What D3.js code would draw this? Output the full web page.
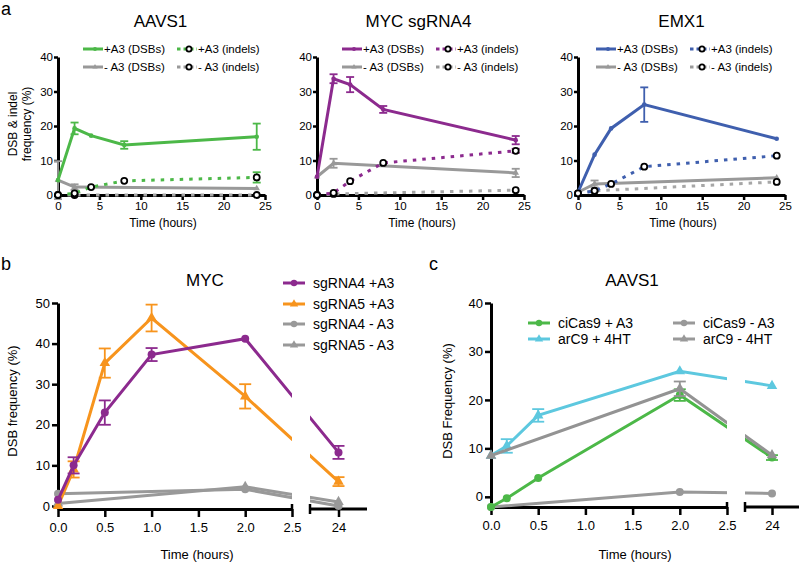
<!DOCTYPE html>
<html><head><meta charset="utf-8">
<script src="https://cdn.jsdelivr.net/npm/d3@7"></script>
<style>body{margin:0;background:#fff}svg text{font-family:"Liberation Sans",Arial,sans-serif}</style>
</head><body>
<svg id="c" width="800" height="562"></svg>
<script>
// ---------------- DATA ----------------
// Panel a
const aTimesPlus = [0, 2, 4, 8, 24];
const aTimesMinus = [0, 2, 24];
const aXTicks = [0, 5, 10, 15, 20, 25];
const aYTicks = [0, 10, 20, 30, 40];
const aTitles = ["AAVS1", "MYC sgRNA4", "EMX1"];
const aColors = ["#4cb848", "#8c2a8e", "#3f5fae"];
const aLegendLabels = ["+A3 (DSBs)", "+A3 (indels)", "- A3 (DSBs)", "- A3 (indels)"];

const aavsDsbPlus = [4.3, 19.3, 17.2, 14.5, 16.9];
const aavsDsbPlusErr = [0, 1.7, 0, 1.1, 3.8];
const aavsIndelPlus = [0, 0.5, 2.3, 4.1, 5.1];
const aavsIndelPlusErr = [0, 0, 0, 0, 1.5];
const aavsDsbMinus = [4.3, 2.3, 1.9];
const aavsDsbMinusErr = [5.5, 0.8, 0];
const aavsIndelMinus = [0, 0, 0];

const mycDsbPlus = [5.3, 33.7, 32.0, 24.8, 15.9];
const mycDsbPlusErr = [0, 1.3, 2.2, 1.0, 1.2];
const mycIndelPlus = [0, 0.6, 4.0, 9.3, 12.8];
const mycIndelPlusErr = [0, 0, 0, 0, 0.6];
const mycDsbMinus = [5.3, 9.2, 6.4];
const mycDsbMinusErr = [0, 1.3, 1.2];
const mycIndelMinus = [0, 0.3, 1.4];

const emxDsbPlus = [0.8, 11.7, 19.3, 26.2, 16.3];
const emxDsbPlusErr = [0, 0, 0, 5.0, 0];
const emxIndelPlus = [0.5, 1.2, 3.2, 8.2, 11.4];
const emxIndelPlusErr = [0, 0, 0, 0, 0];
const emxDsbMinus = [0.8, 3.2, 5.0];
const emxDsbMinusErr = [0, 1.0, 0];
const emxIndelMinus = [0.5, 1.2, 3.8];

// Panel b
const bTimes = [0, 0.167, 0.5, 1, 2, 24];
const bTimesMinus = [0, 2, 24];
const bXTicks1 = [0, 0.5, 1, 1.5, 2, 2.5];
const bXTicks2 = [24];
const bYTicks = [0, 10, 20, 30, 40, 50];
const bLabels = ["sgRNA4 +A3", "sgRNA5 +A3", "sgRNA4 - A3", "sgRNA5 - A3"];
const bColors = ["#8c2a8e", "#f7941d", "#999999", "#999999"];
const sg4Plus = [1.5, 10.0, 23.0, 37.3, 41.2, 13.2];
const sg4PlusErr = [0, 2.0, 3.0, 1.6, 0, 1.6];
const sg5Plus = [0, 9.0, 35.2, 46.3, 27.0, 6.0];
const sg5PlusErr = [0, 2.0, 3.6, 3.3, 3.0, 1.1];
const sg4Minus = [3.0, 4.1, 0.0];
const sg5Minus = [0.6, 4.7, 1.0];

// Panel c
const cTimes = [0, 0.167, 0.5, 2, 24];
const cTimesMinus = [0, 2, 24];
const cYTicks = [0, 10, 20, 30, 40];
const cLabels = ["ciCas9 + A3", "arC9 + 4HT", "ciCas9 - A3", "arC9 - 4HT"];
const cColors = ["#4cb848", "#5dc8df", "#999999", "#999999"];
const ciPlus = [-2.1, -0.3, 3.9, 21.0, 8.1];
const ciPlusErr = [0, 0, 0, 1.2, 0.5];
const arPlus = [8.5, 10.5, 16.8, 25.9, 22.9];
const arPlusErr = [0, 1.4, 1.3, 0, 0];
const ciMinus = [-2.1, 1.0, 0.7];
const arMinus = [8.5, 22.3, 8.6];
const arMinusErr = [0, 1.5, 0];

// ---------------- DRAWING ----------------
const svg = d3.select("#c");
const FONT = '"Liberation Sans",Arial,sans-serif';

function styleAxis(g, fs) {
  g.selectAll(".domain").attr("stroke", "#000").attr("stroke-width", 3);
  g.selectAll(".tick line").attr("stroke", "#000").attr("stroke-width", 2.5);
  g.selectAll(".tick text").attr("font-size", fs).attr("font-family", FONT).attr("fill", "#000");
}

function marker(g, type, cx, cy, color, size) {
  if (type === "open") {
    g.append("circle").attr("cx", cx).attr("cy", cy).attr("r", size)
      .attr("fill", "#fff").attr("stroke", "#000").attr("stroke-width", 1.8);
  } else if (type === "circle") {
    g.append("circle").attr("cx", cx).attr("cy", cy).attr("r", size).attr("fill", color);
  } else if (type === "tri") {
    g.append("path").attr("d", d3.symbol(d3.symbolTriangle, size * size * 3)())
      .attr("transform", `translate(${cx},${cy})`).attr("fill", color);
  }
}

function series(g, x, y, xs, ys, errs, o) {
  const pts = xs.map((t, i) => [x(t), y(ys[i])]);
  const path = g.append("path").attr("d", d3.line()(pts)).attr("fill", "none")
    .attr("stroke", o.color).attr("stroke-width", o.width || 3);
  if (o.dash) path.attr("stroke-dasharray", o.dash);
  if (o.clip) path.attr("clip-path", `url(#${o.clip})`);
  if (errs) {
    xs.forEach((t, i) => {
      if (!errs[i]) return;
      const cx = x(t), y1 = y(ys[i] + errs[i]), y2 = y(ys[i] - errs[i]);
      const cw = o.cap || 4;
      g.append("line").attr("x1", cx).attr("x2", cx).attr("y1", y1).attr("y2", y2).attr("stroke", o.errColor || o.color).attr("stroke-width", 1.8);
      [y1, y2].forEach(yy => g.append("line").attr("x1", cx - cw).attr("x2", cx + cw).attr("y1", yy).attr("y2", yy).attr("stroke", o.errColor || o.color).attr("stroke-width", 1.8));
    });
  }
  if (o.marker) xs.forEach((t, i) => marker(g, o.marker, x(t), y(ys[i]), o.color, o.msize || 3));
}

function text(str, x, y, fs, anchor, rot) {
  const t = svg.append("text").attr("x", x).attr("y", y).attr("font-size", fs)
    .attr("text-anchor", anchor || "middle").attr("fill", "#000").text(str);
  if (rot) t.attr("transform", `rotate(-90,${x},${y})`);
  return t;
}

// ---------- Panel a ----------
const aPanels = [
  { x0: 58, leg: 83, data: [aavsDsbPlus, aavsDsbPlusErr, aavsIndelPlus, aavsIndelPlusErr, aavsDsbMinus, aavsDsbMinusErr, aavsIndelMinus] },
  { x0: 317, leg: 342, data: [mycDsbPlus, mycDsbPlusErr, mycIndelPlus, mycIndelPlusErr, mycDsbMinus, mycDsbMinusErr, mycIndelMinus] },
  { x0: 578, leg: 596, data: [emxDsbPlus, emxDsbPlusErr, emxIndelPlus, emxIndelPlusErr, emxDsbMinus, emxDsbMinusErr, emxIndelMinus] }
];
aPanels.forEach((p, k) => {
  const col = aColors[k];
  const x = d3.scaleLinear().domain([0, 25]).range([p.x0, p.x0 + 207]);
  const y = d3.scaleLinear().domain([0, 40]).range([195, 57]);
  const g = svg.append("g");
  const xa = g.append("g").attr("transform", "translate(0,195)")
    .call(d3.axisBottom(x).tickValues(aXTicks).tickSize(5).tickSizeOuter(0).tickPadding(2));
  styleAxis(xa, 11.5);
  const ya = g.append("g").attr("transform", `translate(${p.x0},0)`)
    .call(d3.axisLeft(y).tickValues(aYTicks).tickSize(4).tickSizeOuter(0).tickPadding(1));
  styleAxis(ya, 11.5);
  const [dp, dpe, ip, ipe, dm, dme, im] = p.data;
  series(g, x, y, aTimesMinus, dm, dme, { color: "#999", marker: "tri", msize: 2.5, cap: 4 });
  series(g, x, y, aTimesMinus, im, null, { color: "#a6a6a6", dash: "3.5,6", marker: "open", msize: 3 });
  series(g, x, y, aTimesPlus, dp, dpe, { color: col, marker: "circle", msize: 2.3, cap: 4 });
  series(g, x, y, aTimesPlus, ip, ipe, { color: col, dash: "3.5,6", marker: "open", msize: 3, cap: 4 });
  text(aTitles[k], (p.x0 + p.x0 + 207) / 2 + (k === 0 ? -1 : k === 1 ? -2 : 0), 27, 17);
  text("Time (hours)", p.x0 + 105, 227, 12);
  // legend
  const L = [[p.leg, 49, col, "circle", null], [p.leg + 94, 49, col, "open", "3.5,3"], [p.leg, 67, "#999", "tri", null], [p.leg + 94, 67, "#999", "open", "3.5,3"]];
  L.forEach((l, i) => {
    g.append("line").attr("x1", l[0]).attr("x2", l[0] + 20).attr("y1", l[1]).attr("y2", l[1])
      .attr("stroke", l[2]).attr("stroke-width", 3).attr("stroke-dasharray", l[4]);
    marker(g, l[3], l[0] + 12, l[1], l[2], l[3] === "open" ? 2.6 : 2);
    text(aLegendLabels[i], l[0] + 21, l[1] + 4, 11.5, "start");
  });
});
text("a", 1, 15, 18, "start");
text("DSB & indel", 17, 124, 12, "middle", true);
text("frequency (%)", 31, 124, 12, "middle", true);

// ---------- broken axis helper ----------
function brokenPanel(cfg) {
  const s1 = d3.scaleLinear().domain([0, 2.5]).range([cfg.x0, cfg.x1]);
  const s2 = d3.scaleLinear().domain([23, 25]).range([cfg.x2, cfg.x3]);
  const x = t => (t <= 2.5 ? s1(t) : s2(t));
  const y = d3.scaleLinear().domain(cfg.yDomain).range([cfg.yAxis, cfg.yTop]);
  const g = svg.append("g");
  const defs = g.append("defs");
  const cp = defs.append("clipPath").attr("id", cfg.id);
  cp.append("rect").attr("x", 0).attr("y", 0).attr("width", cfg.x1).attr("height", 562);
  cp.append("rect").attr("x", cfg.x2).attr("y", 0).attr("width", 800 - cfg.x2).attr("height", 562);
  const xa1 = g.append("g").attr("transform", `translate(0,${cfg.yAxis})`)
    .call(d3.axisBottom(s1).tickValues(bXTicks1).tickFormat(d3.format(".1f")).tickSize(8).tickSizeOuter(0).tickPadding(6));
  styleAxis(xa1, 13);
  const xa2 = g.append("g").attr("transform", `translate(0,${cfg.yAxis})`)
    .call(d3.axisBottom(s2).tickValues(bXTicks2).tickFormat(d3.format("d")).tickSize(8).tickSizeOuter(0).tickPadding(6));
  xa2.select(".domain").attr("d", `M${cfg.x2},0H${cfg.x3}`);
  styleAxis(xa2, 13);
  g.append("line").attr("x1", cfg.x2).attr("x2", cfg.x2).attr("y1", cfg.yAxis - 5).attr("y2", cfg.yAxis + 5).attr("stroke", "#000").attr("stroke-width", 2.5);
  g.append("line").attr("x1", cfg.x1).attr("x2", cfg.x1).attr("y1", cfg.yAxis - 5).attr("y2", cfg.yAxis).attr("stroke", "#000").attr("stroke-width", 2.5);
  const ya = g.append("g").attr("transform", `translate(${cfg.x0},0)`)
    .call(d3.axisLeft(y).tickValues(cfg.yTicks).tickSize(6).tickSizeOuter(0).tickPadding(2));
  styleAxis(ya, 13);
  return { g, x, y };
}

// ---------- Panel b ----------
{
  const { g, x, y } = brokenPanel({ id: "clipB", x0: 58, x1: 292, x2: 310, x3: 367, yAxis: 509, yTop: 303, yDomain: [-0.75, 50], yTicks: bYTicks });
  series(g, x, y, bTimesMinus, sg5Minus, null, { color: bColors[3], marker: "tri", msize: 4, clip: "clipB" });
  series(g, x, y, bTimesMinus, sg4Minus, null, { color: bColors[2], marker: "circle", msize: 4, clip: "clipB" });
  series(g, x, y, bTimes, sg5Plus, sg5PlusErr, { color: bColors[1], marker: "tri", msize: 4, cap: 6, clip: "clipB" });
  series(g, x, y, bTimes, sg4Plus, sg4PlusErr, { color: bColors[0], marker: "circle", msize: 4, cap: 6, clip: "clipB" });
  text("MYC", 205, 286, 17);
  text("Time (hours)", 197, 559, 13);
  text("DSB frequency (%)", 17, 401, 13, "middle", true);
  text("b", 1, 270, 18, "start");
  const rows = [283, 304, 324, 345];
  const mk = ["circle", "tri", "circle", "tri"];
  rows.forEach((ry, i) => {
    g.append("line").attr("x1", 283).attr("x2", 305).attr("y1", ry).attr("y2", ry).attr("stroke", bColors[i]).attr("stroke-width", 3);
    marker(g, mk[i], 294, ry, bColors[i], 3.2);
    text(bLabels[i], 313, ry + 5, 14, "start");
  });
}

// ---------- Panel c ----------
{
  const { g, x, y } = brokenPanel({ id: "clipC", x0: 491, x1: 727, x2: 745, x3: 799, yAxis: 507, yTop: 303, yDomain: [-2.1, 40], yTicks: cYTicks });
  series(g, x, y, cTimesMinus, ciMinus, null, { color: cColors[2], marker: "circle", msize: 4, clip: "clipC" });
  series(g, x, y, cTimes, ciPlus, ciPlusErr, { color: cColors[0], marker: "circle", msize: 4, cap: 6, clip: "clipC" });
  series(g, x, y, cTimes, arPlus, arPlusErr, { color: cColors[1], marker: "tri", msize: 4, cap: 6, clip: "clipC" });
  series(g, x, y, cTimesMinus, arMinus, arMinusErr, { color: "#939393", marker: "tri", msize: 4, cap: 6, clip: "clipC" });
  text("AAVS1", 632, 286, 17);
  text("Time (hours)", 635, 559, 13);
  text("DSB Frequency (%)", 452, 401, 13, "middle", true);
  text("c", 429, 270, 18, "start");
  const L = [[528, 323, 0, "circle"], [528, 339, 1, "tri"], [673, 323, 2, "circle"], [673, 339, 3, "tri"]];
  L.forEach(l => {
    g.append("line").attr("x1", l[0]).attr("x2", l[0] + 22).attr("y1", l[1]).attr("y2", l[1]).attr("stroke", cColors[l[2]]).attr("stroke-width", 3);
    marker(g, l[3], l[0] + 11, l[1], cColors[l[2]], 3.2);
    text(cLabels[l[2]], l[0] + 30, l[1] + 5, 14, "start");
  });
}
</script>
</body></html>
